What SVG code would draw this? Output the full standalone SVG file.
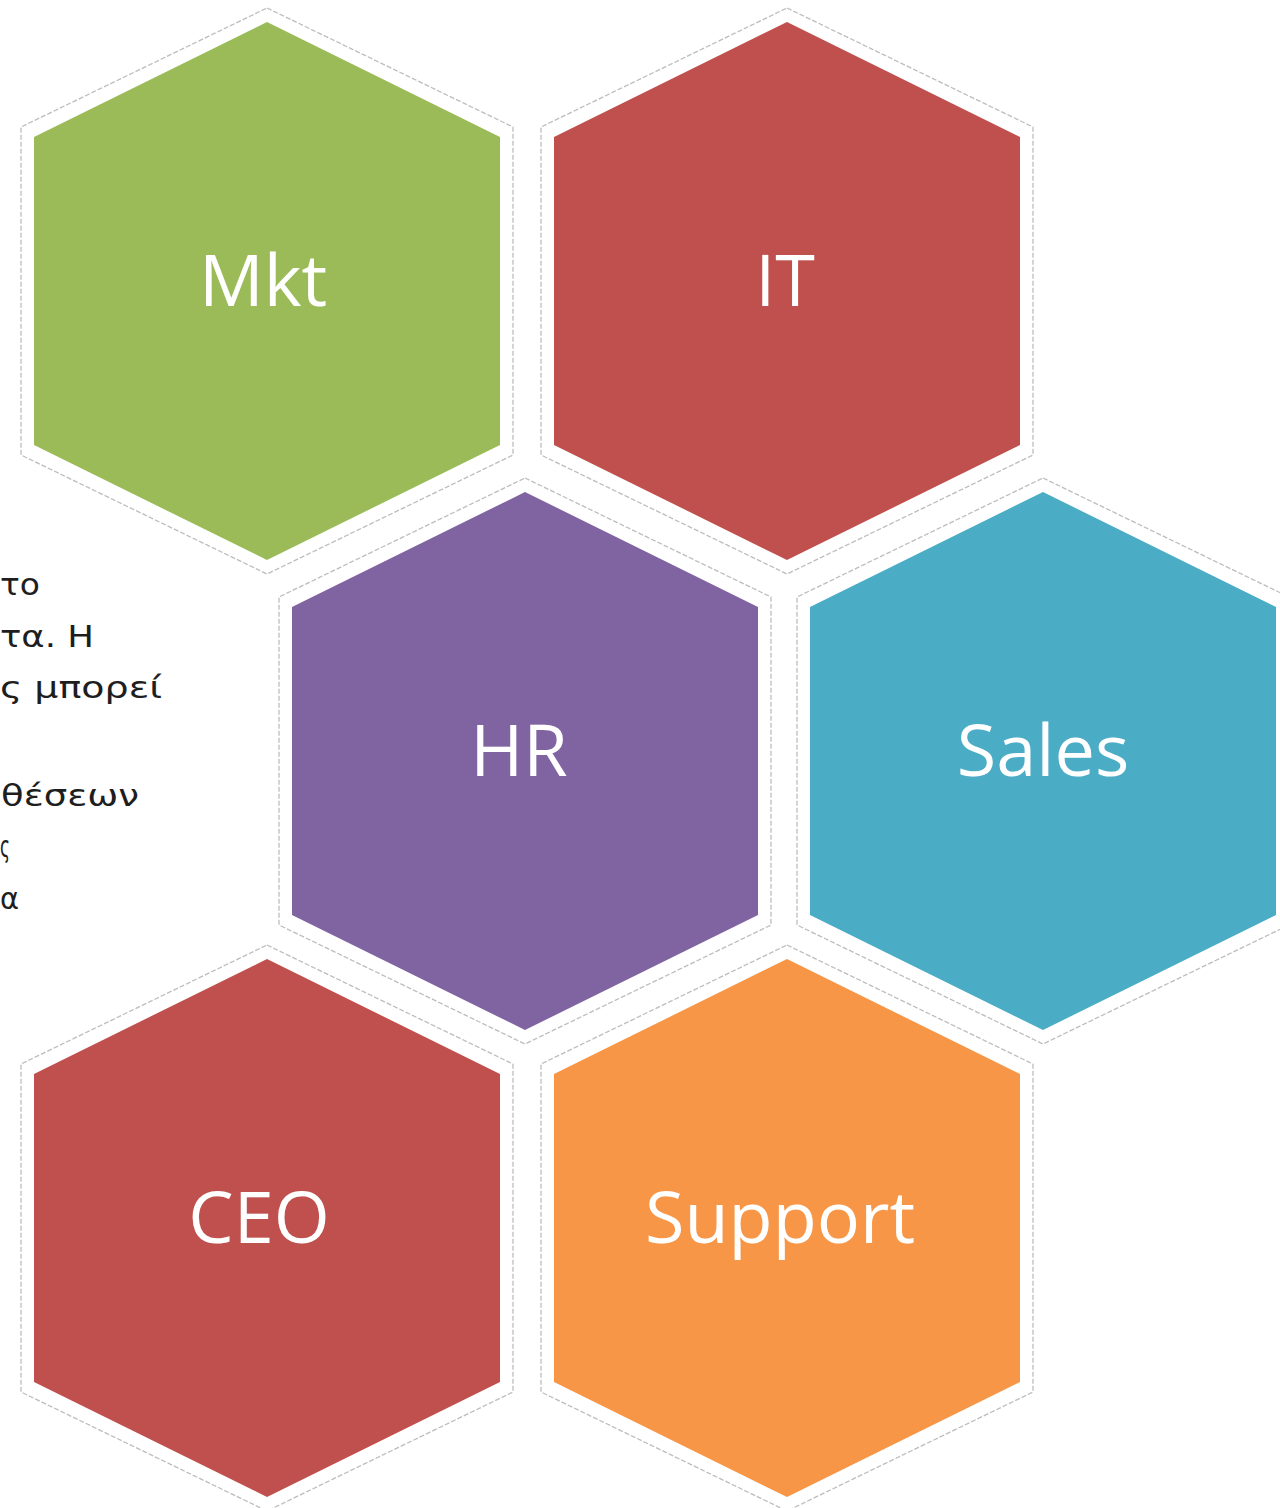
<svg xmlns="http://www.w3.org/2000/svg" width="1280" height="1508" viewBox="0 0 1280 1508">
<defs>
<style>
.outer{fill:#ffffff;stroke:#bdbdbd;stroke-width:1.3;stroke-dasharray:5 2}
.lbl{font-family:"Open Sans","Noto Sans","Liberation Sans",sans-serif;font-size:72px;fill:#ffffff;text-anchor:middle}
.side{font-family:"DejaVu Sans","Liberation Sans",sans-serif;font-size:31px;fill:#1e1e1e}
</style>
<polygon id="hexOuter" points="0,-283 246,-164 246,164 0,283 -246,164 -246,-164"/>
<polygon id="hexInner" points="0,-269 233,-154 233,154 0,269 -233,154 -233,-154"/>
</defs>
<rect width="1280" height="1508" fill="#ffffff"/>
<g id="sidetext">
<text class="side" x="0" y="595" textLength="40" lengthAdjust="spacingAndGlyphs">το</text>
<text class="side" x="0" y="647" textLength="94" lengthAdjust="spacingAndGlyphs">τα. Η</text>
<text class="side" x="0" y="698" textLength="162" lengthAdjust="spacingAndGlyphs">ς μπορεί</text>
<text class="side" x="1" y="806" textLength="138" lengthAdjust="spacingAndGlyphs">θέσεων</text>
<text class="side" x="0" y="857" textLength="10" lengthAdjust="spacingAndGlyphs">ς</text>
<text class="side" x="0" y="909" textLength="19" lengthAdjust="spacingAndGlyphs">α</text>
</g>
<g id="connectors"></g>
<g id="mkt" transform="translate(267,291)">
<use href="#hexOuter" class="outer"/>
<use href="#hexInner" fill="#9BBB59"/>
<text class="lbl" x="-4" y="15">Mkt</text>
</g>
<g id="it" transform="translate(787,291)">
<use href="#hexOuter" class="outer"/>
<use href="#hexInner" fill="#C0504D"/>
<text class="lbl" x="-2" y="15">IT</text>
</g>
<g id="hr" transform="translate(525,761)">
<use href="#hexOuter" class="outer"/>
<use href="#hexInner" fill="#8064A2"/>
<text class="lbl" x="-6" y="15">HR</text>
</g>
<g id="sales" transform="translate(1043,761)">
<use href="#hexOuter" class="outer"/>
<use href="#hexInner" fill="#4BACC6"/>
<text class="lbl" x="0" y="15">Sales</text>
</g>
<g id="ceo" transform="translate(267,1228)">
<use href="#hexOuter" class="outer"/>
<use href="#hexInner" fill="#C0504D"/>
<text class="lbl" x="-8" y="15">CEO</text>
</g>
<g id="support" transform="translate(787,1228)">
<use href="#hexOuter" class="outer"/>
<use href="#hexInner" fill="#F79646"/>
<text class="lbl" x="-7" y="15">Support</text>
</g>
</svg>
